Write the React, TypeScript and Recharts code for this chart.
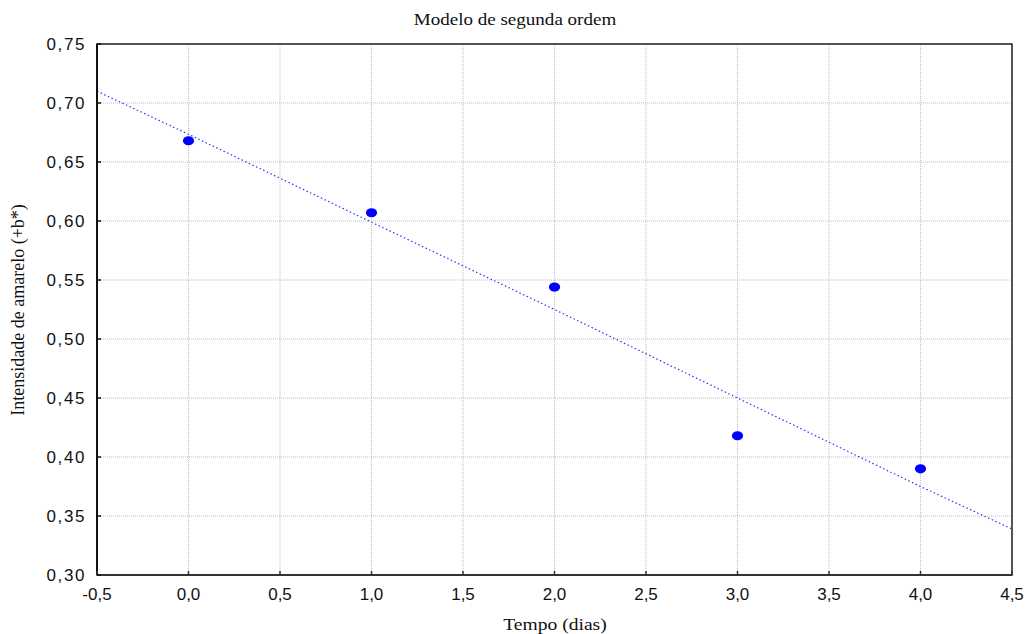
import React from 'react';
import { ComposedChart, Line, Scatter, XAxis, YAxis, CartesianGrid, ReferenceArea } from 'recharts';

// measured values
const tempo = [0, 1, 2, 3, 4];
const intensidade = [0.668, 0.607, 0.544, 0.418, 0.39];

// fitted second-order model curve
const fitTempo = [-0.5, 0, 1, 2, 3, 4, 4.5];
const fitIntensidade = [0.71, 0.6735, 0.599, 0.525, 0.45, 0.375, 0.339];

const xTicks = [-0.5, 0, 0.5, 1, 1.5, 2, 2.5, 3, 3.5, 4, 4.5];
const yTicks = [0.3, 0.35, 0.4, 0.45, 0.5, 0.55, 0.6, 0.65, 0.7, 0.75];

const points = tempo.map((x, i) => ({ x, y: intensidade[i] }));
const fitData = fitTempo.map((x, i) => ({ x, y: fitIntensidade[i] }));

const AXIS = '#333';
const tickFont = { fontFamily: '"Liberation Sans", Arial, sans-serif', fontSize: 17, fill: '#111' };

const BottomTick = (props: any) => {
  const { x, y, payload } = props;
  return (
    <g>
      <line x1={x} y1={y} x2={x} y2={y - 4} stroke={AXIS} strokeWidth={1.5} />
      <text x={x} y={y + 25} textAnchor="middle" style={tickFont}>
        {payload.value.toFixed(1).replace('.', ',')}
      </text>
    </g>
  );
};

const TopTick = (props: any) => {
  const { x, y } = props;
  return <line x1={x} y1={y} x2={x} y2={y + 4} stroke={AXIS} strokeWidth={1.5} />;
};

const LeftTick = (props: any) => {
  const { x, y, payload } = props;
  return (
    <g>
      <line x1={x} y1={y} x2={x + 4} y2={y} stroke="#111" strokeWidth={1.5} />
      <text x={x - 11} y={y + 6} textAnchor="end" letterSpacing={1.6} style={tickFont}>
        {payload.value.toFixed(2).replace('.', ',')}
      </text>
    </g>
  );
};

const RightTick = (props: any) => {
  const { x, y } = props;
  return <line x1={x} y1={y} x2={x - 4} y2={y} stroke={AXIS} strokeWidth={1.5} />;
};

const Dot = (props: any) => {
  const { cx, cy } = props;
  return <ellipse cx={cx} cy={cy} rx={5.6} ry={4.6} fill="#0000ff" />;
};

export default function App() {
  return (
    <div style={{ position: 'absolute', left: 0, top: 0, width: 1030, height: 634, background: '#fff' }}>
      <ComposedChart width={1030} height={634} margin={{ top: 44, right: 18, bottom: 0, left: 0 }}>
        <CartesianGrid stroke="#bdbdbd" strokeDasharray="1 1" />
        <XAxis
          xAxisId={0}
          dataKey="x"
          type="number"
          domain={[-0.5, 4.5]}
          ticks={xTicks}
          allowDataOverflow
          height={59}
          tickSize={0}
          tickMargin={0}
          tick={<BottomTick />}
          axisLine={{ stroke: AXIS, strokeWidth: 2 }}
          tickLine={false}
          interval={0}
        />
        <XAxis
          xAxisId="top"
          orientation="top"
          type="number"
          domain={[-0.5, 4.5]}
          ticks={xTicks}
          allowDataOverflow
          height={0}
          tickSize={0}
          tickMargin={0}
          tick={<TopTick />}
          axisLine={{ stroke: '#111', strokeWidth: 1.5 }}
          tickLine={false}
          interval={0}
        />
        <YAxis
          yAxisId={0}
          type="number"
          domain={[0.3, 0.75]}
          ticks={yTicks}
          allowDataOverflow
          width={97}
          tickSize={0}
          tickMargin={0}
          tick={<LeftTick />}
          axisLine={{ stroke: '#111', strokeWidth: 2 }}
          tickLine={false}
          interval={0}
        />
        <YAxis
          yAxisId="right"
          orientation="right"
          type="number"
          domain={[0.3, 0.75]}
          ticks={yTicks}
          allowDataOverflow
          width={0}
          tickSize={0}
          tickMargin={0}
          tick={<RightTick />}
          axisLine={{ stroke: AXIS, strokeWidth: 2 }}
          tickLine={false}
          interval={0}
        />
        <ReferenceArea
          x1={-0.5}
          x2={4.5}
          y1={0.3}
          y2={0.75}
          fill="none"
          fillOpacity={0}
          stroke="#222"
          strokeWidth={1.5}
          ifOverflow="visible"
        />
        <Line
          data={fitData}
          dataKey="y"
          type="linear"
          stroke="#3030ff"
          strokeWidth={1.2}
          strokeDasharray="1.5 2.5"
          dot={false}
          activeDot={false}
          isAnimationActive={false}
        />
        <Scatter data={points} dataKey="y" shape={<Dot />} isAnimationActive={false} />
      </ComposedChart>
      <div
        style={{
          position: 'absolute', top: 10, left: 0, width: 1030, textAlign: 'center',
          fontFamily: '"Liberation Serif", "Times New Roman", serif', fontSize: 17, color: '#111',
          transform: 'scaleX(1.12)', pointerEvents: 'none',
        }}
      >
        Modelo de segunda ordem
      </div>
      <div
        style={{
          position: 'absolute', top: 615, left: 555, transform: 'translateX(-50%) scaleX(1.15)',
          fontFamily: '"Liberation Serif", "Times New Roman", serif', fontSize: 17, color: '#111', whiteSpace: 'nowrap',
        }}
      >
        Tempo (dias)
      </div>
      <div
        style={{
          position: 'absolute', left: 18, top: 310, transform: 'translate(-50%, -50%) rotate(-90deg)',
          fontFamily: '"Liberation Serif", "Times New Roman", serif', fontSize: 18, color: '#111', whiteSpace: 'nowrap',
        }}
      >
        Intensidade de amarelo (+b*)
      </div>
    </div>
  );
}
